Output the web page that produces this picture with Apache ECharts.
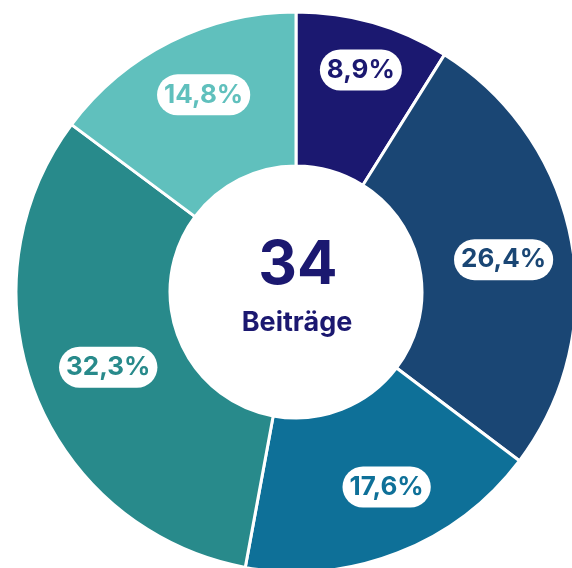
<!DOCTYPE html>
<html lang="de">
<head>
    <meta charset="UTF-8">
    <title>Beiträge</title>
    <script src="https://cdn.jsdelivr.net/npm/echarts@6/dist/echarts.min.js"></script>
    <style>
        html, body { margin: 0; padding: 0; background: #fff; }
    </style>
</head>
<body>
    <div id="main" style="width: 572px; height: 568px;"></div>
    <script type="text/javascript">
        // Daten
        var categories = ['A', 'B', 'C', 'D', 'E'];
        var shares = [8.9, 26.4, 17.6, 32.3, 14.8];
        var colors = ['#1b1870', '#1a4674', '#0e7098', '#288a8b', '#60c0bd'];
        var total = 34;
        var totalLabel = 'Beiträge';

        var myChart = echarts.init(document.getElementById('main'));

        var data = shares.map(function (v, i) {
            return {
                name: categories[i],
                value: v,
                itemStyle: { color: colors[i] },
                label: { color: colors[i] }
            };
        });

        // Label-Verschiebung gegenüber 'inside'
        var labelShift = [[8, -24], [5, 5], [16, 3], [4, 0], [0, -13]];

        var option = {
            backgroundColor: '#fff',
            animation: false,
            graphic: [
                {
                    type: 'text', x: 298, y: 266,
                    style: {
                        text: String(total), fill: '#1b1870',
                        font: 'bold 60px Inter', align: 'center', verticalAlign: 'middle'
                    }
                },
                {
                    type: 'text', x: 297, y: 323,
                    style: {
                        text: totalLabel, fill: '#1b1870',
                        font: 'bold 27px Inter', align: 'center', verticalAlign: 'middle'
                    }
                }
            ],
            series: [
                {
                    type: 'pie',
                    center: [296, 292],
                    radius: [126, 280],
                    startAngle: 90,
                    clockwise: true,
                    itemStyle: { borderColor: '#fff', borderWidth: 3 },
                    label: {
                        show: true,
                        position: 'inside',
                        fontFamily: 'Inter',
                        fontWeight: 'bold',
                        fontSize: 26,
                        backgroundColor: '#fff',
                        borderRadius: 21,
                        padding: [8, 7, 7, 7],
                        formatter: function (p) {
                            return p.value.toFixed(1).replace('.', ',') + '%';
                        }
                    },
                    labelLine: { show: false },
                    labelLayout: function (p) {
                        var s = labelShift[p.dataIndex];
                        return { dx: s[0], dy: s[1] };
                    },
                    data: data
                }
            ]
        };
        myChart.setOption(option);
    </script>
</body>
</html>
